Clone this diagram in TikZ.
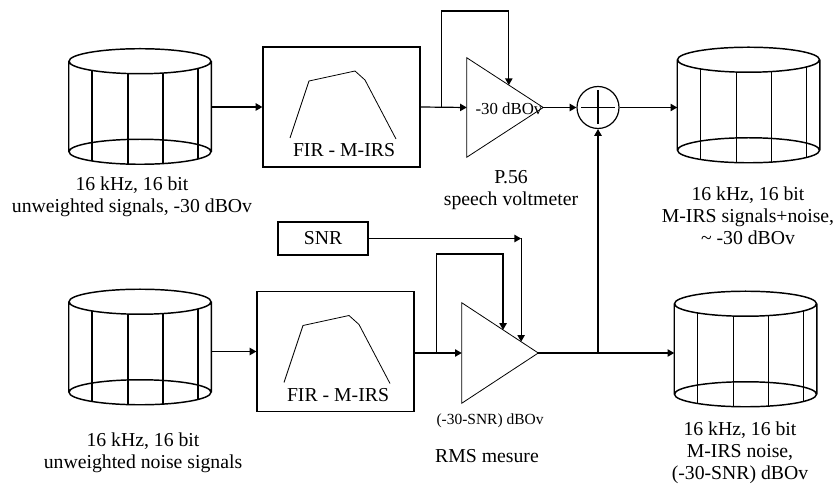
\documentclass[tikz,border=0pt]{standalone}
\usepackage{fontspec}
\setmainfont{Liberation Serif}
\usepackage{tikz}
\usetikzlibrary{positioning,calc,arrows.meta}

\begin{document}
\begin{tikzpicture}[
  x=0.75pt,y=-0.75pt,
  every node/.style={font=\fontsize{14.8}{16.3}\selectfont},
  drum/.style={minimum width=106.5pt,minimum height=67.5pt,inner sep=0pt},
  drumline/.style={line width=1.1pt},
  fir/.style={rectangle,draw,line width=0.9pt,minimum width=117.75pt,minimum height=90pt,inner sep=0pt},
  amp/.style={minimum width=57pt,minimum height=74.25pt,inner sep=0pt},
  thinline/.style={line width=0.6pt},
  conn/.style={line width=0.9pt,-{Triangle[length=5pt,width=5.5pt]}},
  wire/.style={line width=0.9pt},
  notes/.style={align=center,inner sep=0pt,anchor=north},
  smalltext/.style={font=\fontsize{12.6}{14}\selectfont,inner sep=0pt},
]
\useasboundingbox (0,0) rectangle (839,484);

\node (srcA) [drum] at (140,106.5) {};
\node (srcB) [drum] at (140,347) {};
\node (outA) [drum] at (748.5,105) {};
\node (outB) [drum] at (745.5,349) {};
\foreach \cyl in {srcA,srcB,outA,outB}{
  \draw[drumline] (\cyl.north) ellipse [x radius=71, y radius=12.5]
                  (\cyl.south) ellipse [x radius=71, y radius=12.5]
                  (\cyl.north west) -- (\cyl.south west)
                  (\cyl.north east) -- (\cyl.south east);
  \foreach \dx in {-48,-12,23,58}{
    \pgfmathsetmacro{\dy}{12.5*sqrt(1-(\dx/71)^2)}
    \draw[drumline] ($(\cyl.north)+(\dx,\dy)$) -- ($(\cyl.south)+(\dx,\dy)$);
  }
}

\node (firA) [fir] at (341.5,107) {};
\node (firB) [fir] at (335.5,351.5) {};
\node (firAtxt) [anchor=base,inner sep=0pt] at ($(firA.center)+(2.5,50)$) {FIR - M-IRS};
\node (firBtxt) [anchor=base,inner sep=0pt] at ($(firB.center)+(2.5,50.5)$) {FIR - M-IRS};
\foreach \f in {firA,firB}
  \draw[thinline] ($(\f)+(-51.5,31)$) -- ($(\f)+(-32.5,-26)$) -- ($(\f)+(13.5,-36)$)
                  -- ($(\f)+(23.5,-27)$) -- ($(\f)+(54.5,32)$);

\node (ampA) [amp] at (505,107.5) {};
\node (ampB) [amp,minimum height=75pt] at (500,353) {};
\foreach \a in {ampA,ampB}
  \draw[thinline] (\a.north west) -- (\a.east) -- (\a.south west) -- cycle;
\node (lvlA) [smalltext] at (509,109) {-30 dBOv};
\node (lvlB) [smalltext,font=\fontsize{11.6}{13}\selectfont] at (490,421) {(-30-SNR) dBOv};

\node (sum) [circle,draw,line width=0.9pt,minimum size=31.5pt,inner sep=0pt] at (598,107.5) {};
\draw[wire] ($(sum)+(-17,0)$) -- ($(sum)+(17,0)$)
            ($(sum)+(0,-17)$) -- ($(sum)+(0,17)$);

\node (snr) [rectangle,draw,line width=0.9pt,minimum width=67.5pt,minimum height=24.75pt] at (323,238.5) {SNR};

\node (lblSrcA) [notes] at (132,176.5) {16 kHz, 16 bit\\unweighted signals, -30 dBOv};
\node (lblSrcB) [notes] at (143,433) {16 kHz, 16 bit\\unweighted noise signals};
\node (lblAmpA) [notes] at (511,170) {P.56\\speech voltmeter};
\node (lblOutA) [notes] at (748,187) {16 kHz, 16 bit\\M-IRS signals+noise,\\\textasciitilde{} -30 dBOv};
\node (lblOutB) [notes] at (740,422) {16 kHz, 16 bit\\M-IRS noise,\\(-30-SNR) dBOv};
\node (lblRms) [notes] at (487,449) {RMS mesure};

\draw[conn] (firA.west -| srcA.east) -- (firA.west);
\draw[conn] (firB.west -| srcB.east) -- (firB.west);

\draw[conn] (firA.east) -- (ampA.west);
\coordinate (tapA) at ($(firA.east)!0.45!(ampA.west)$);
\coordinate (hitA) at ($(ampA.north west)!0.55!(ampA.east)$);
\draw[conn] (tapA) -- (tapA |- 0,11) -| (hitA);
\draw[conn] (ampA.east) -- (sum.west);
\draw[conn] (sum.east) -- (sum.east -| outA.west);

\draw[conn] (firB.east |- ampB.west) -- (ampB.west);
\coordinate (tapB) at ($(firB.east |- ampB.west)!0.47!(ampB.west)$);
\coordinate (hitB) at ($(ampB.north west)!0.54!(ampB.east)$);
\draw[conn] (tapB) -- (tapB |- 0,254) -| (hitB);
\coordinate (hitC) at ($(ampB.north west)!0.776!(ampB.east)$);
\coordinate (bendC) at (hitC |- snr.east);
\draw[conn] (snr.east) -- (bendC);
\draw[conn] (bendC) -- (hitC);
\draw[conn] (ampB.east) -- (ampB.east -| outB.west);
\coordinate (tapS) at (sum |- ampB.east);
\draw[conn] (tapS) -- (sum.south);
\end{tikzpicture}
\end{document}
